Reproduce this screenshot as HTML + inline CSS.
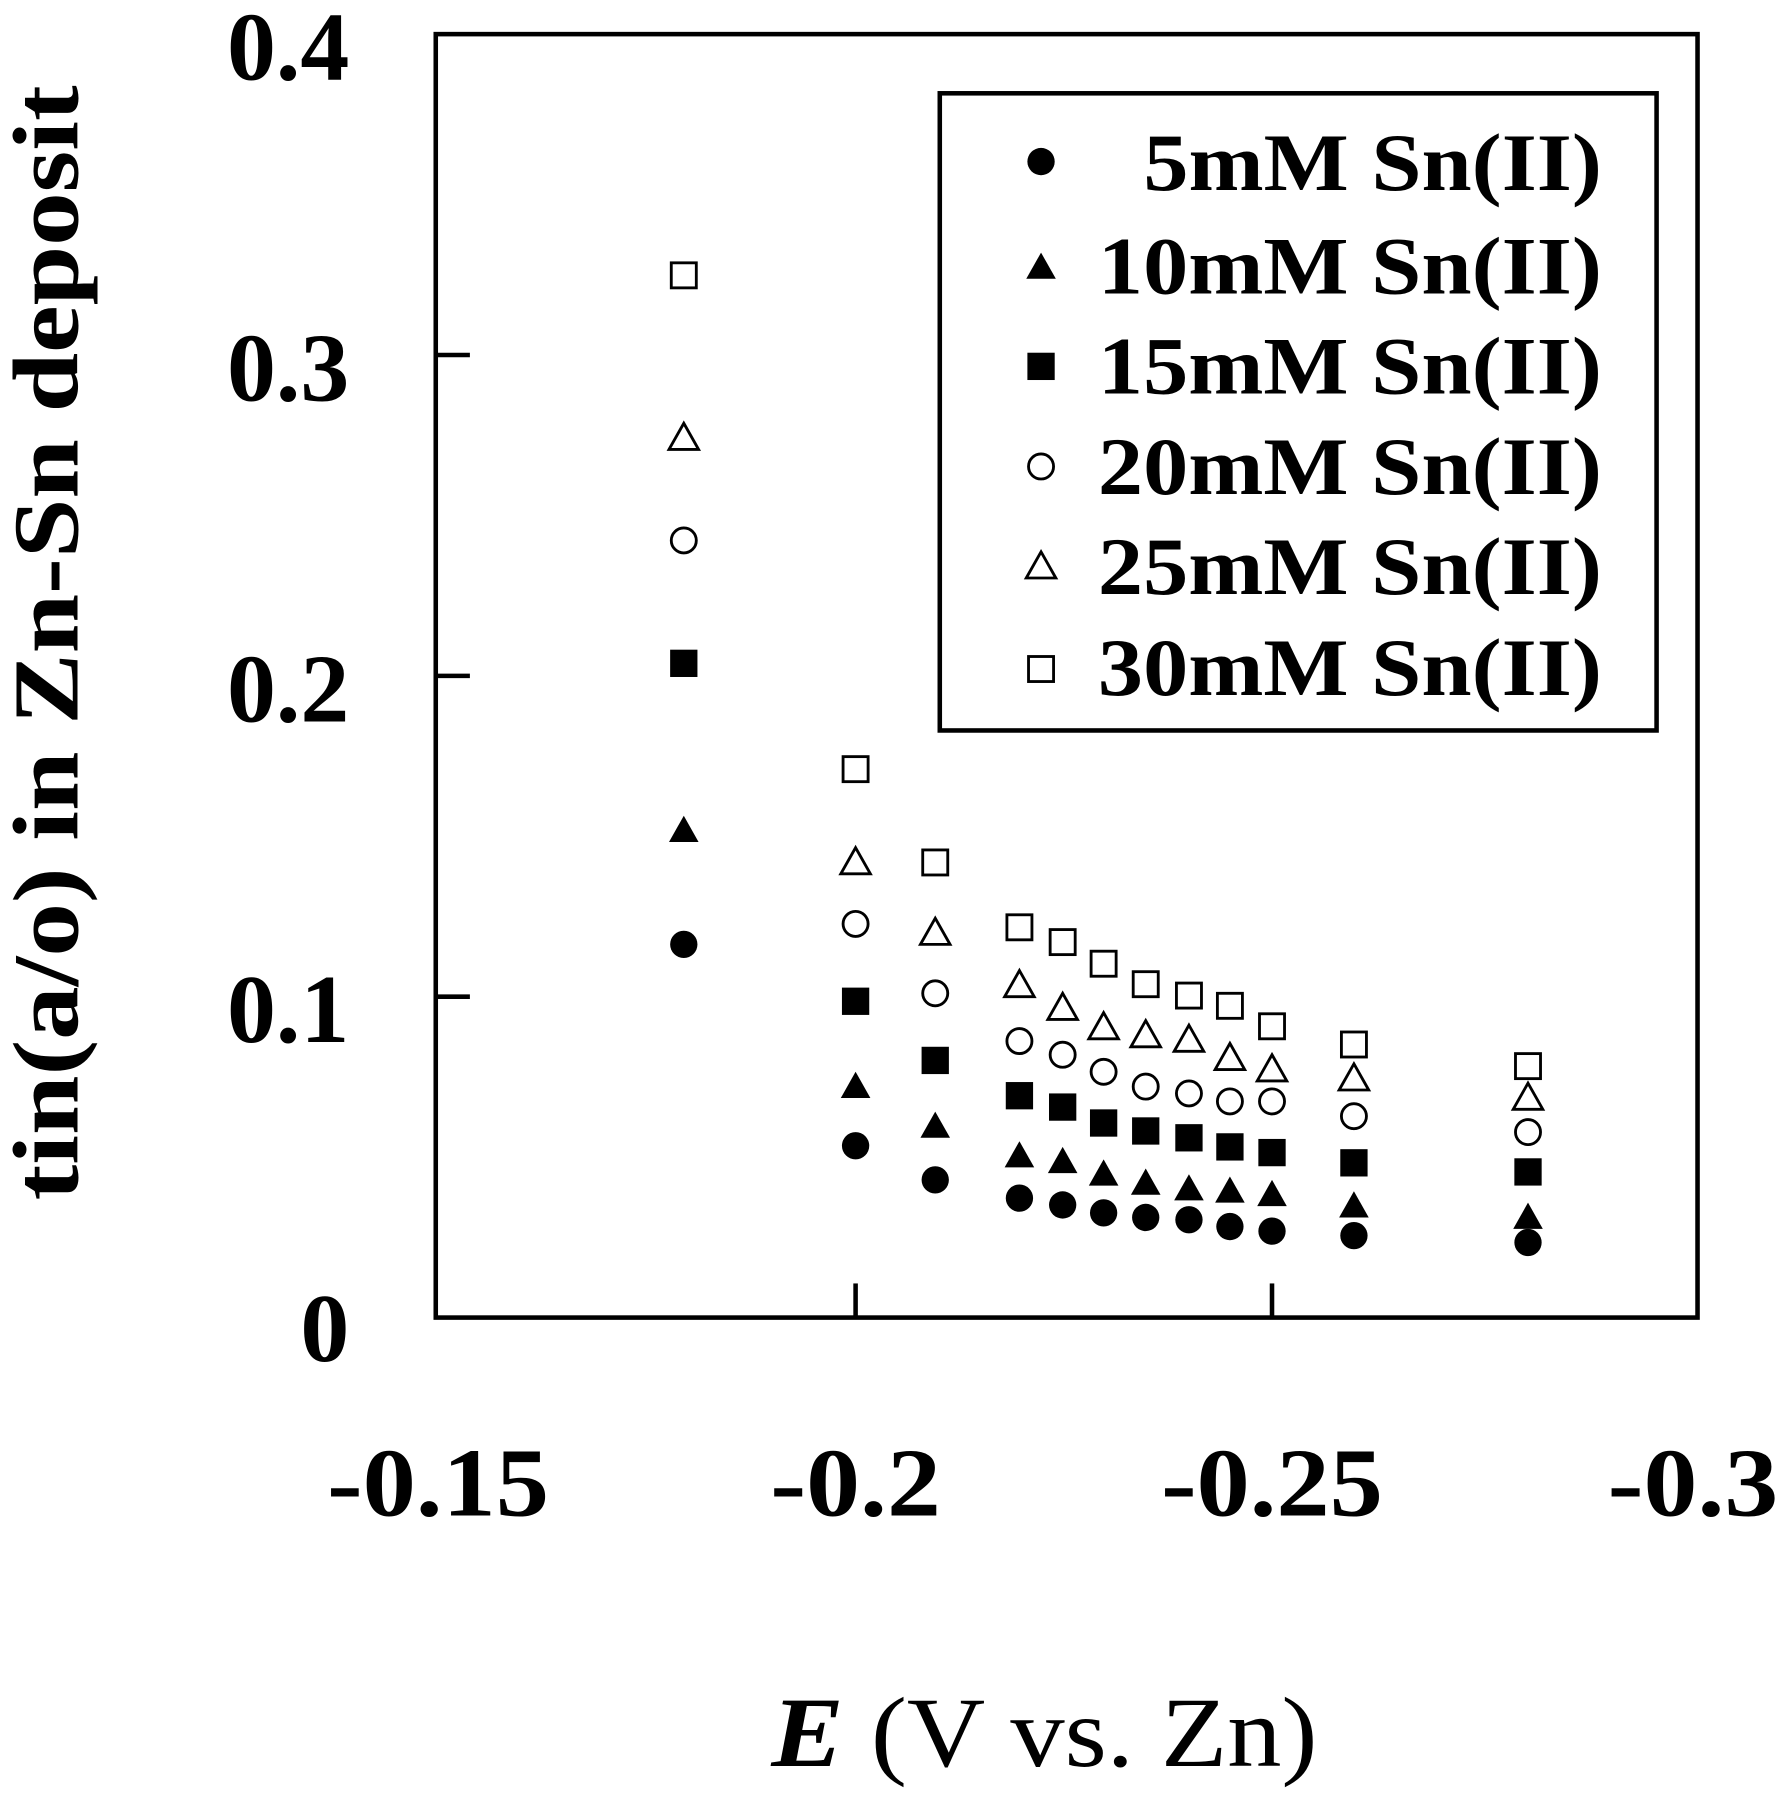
<!DOCTYPE html>
<html><head><style>html,body{margin:0;padding:0;background:#fff}svg{display:block}</style></head>
<body>
<svg width="1784" height="1800" viewBox="0 0 1568 1582" preserveAspectRatio="none" xmlns="http://www.w3.org/2000/svg" font-family="Liberation Serif, serif">
<rect x="383" y="30" width="1109" height="1128" fill="none" stroke="#000" stroke-width="4"/>
<g stroke="#000" stroke-width="4">
<line x1="383" y1="876" x2="413" y2="876"/><line x1="383" y1="594" x2="413" y2="594"/><line x1="383" y1="312" x2="413" y2="312"/>
<line x1="752" y1="1158" x2="752" y2="1128"/><line x1="1118" y1="1158" x2="1118" y2="1128"/>
</g>
<g font-size="86" font-weight="bold" text-anchor="end">
<text x="307" y="70">0.4</text><text x="307" y="352">0.3</text><text x="307" y="634">0.2</text><text x="307" y="916">0.1</text><text x="307" y="1196">0</text>
</g>
<g font-size="86" font-weight="bold" text-anchor="middle">
<text x="385" y="1332" textLength="195" lengthAdjust="spacingAndGlyphs">-0.15</text><text x="752" y="1332" textLength="150" lengthAdjust="spacingAndGlyphs">-0.2</text><text x="1118" y="1332" textLength="195" lengthAdjust="spacingAndGlyphs">-0.25</text><text x="1488" y="1332" textLength="150" lengthAdjust="spacingAndGlyphs">-0.3</text>
</g>
<text x="678" y="1552" font-size="88" textLength="480" lengthAdjust="spacingAndGlyphs"><tspan font-weight="bold" font-style="italic">E</tspan> (V vs. Zn)</text>
<text transform="translate(68,565) rotate(-90)" font-size="82" font-weight="bold" text-anchor="middle" textLength="980" lengthAdjust="spacingAndGlyphs">tin(a/o) in Zn-Sn deposit</text>
<rect x="826" y="82" width="630" height="560" fill="#fff" stroke="#000" stroke-width="4"/>
<g font-size="72" font-weight="bold" lengthAdjust="spacingAndGlyphs">
<text x="1005" y="167" textLength="403" lengthAdjust="spacingAndGlyphs">5mM Sn(II)</text>
<text x="965" y="258" textLength="443" lengthAdjust="spacingAndGlyphs">10mM Sn(II)</text>
<text x="965" y="346" textLength="443" lengthAdjust="spacingAndGlyphs">15mM Sn(II)</text>
<text x="965" y="434" textLength="443" lengthAdjust="spacingAndGlyphs">20mM Sn(II)</text>
<text x="965" y="522" textLength="443" lengthAdjust="spacingAndGlyphs">25mM Sn(II)</text>
<text x="965" y="611" textLength="443" lengthAdjust="spacingAndGlyphs">30mM Sn(II)</text>
</g>
<defs>
<circle id="fc" r="12" fill="#000"/>
<path id="ft" d="M0,-13 L13,10 L-13,10Z" fill="#000"/>
<rect id="fs" x="-12" y="-12" width="24" height="24" fill="#000"/>
<circle id="oc" r="11" fill="none" stroke="#000" stroke-width="2.5"/>
<path id="ot" d="M0,-13 L13,10 L-13,10Z" fill="none" stroke="#000" stroke-width="2.5"/>
<rect id="os" x="-11" y="-11" width="22" height="22" fill="none" stroke="#000" stroke-width="2.5"/>
</defs>
<use href="#fc" x="915" y="142"/><use href="#ft" x="915" y="235"/><use href="#fs" x="915" y="322"/><use href="#oc" x="915" y="410"/><use href="#ot" x="915" y="498"/><use href="#os" x="915" y="588"/>
<g>
<use href="#os" x="601" y="242"/><use href="#os" x="752" y="676"/><use href="#os" x="822" y="758"/><use href="#os" x="896" y="815"/><use href="#os" x="934" y="828"/><use href="#os" x="970" y="847"/><use href="#os" x="1007" y="865"/><use href="#os" x="1045" y="875"/><use href="#os" x="1081" y="884"/><use href="#os" x="1118" y="902"/><use href="#os" x="1190" y="918"/><use href="#os" x="1343" y="937"/>
<use href="#ot" x="601" y="385"/><use href="#ot" x="752" y="758"/><use href="#ot" x="822" y="820"/><use href="#ot" x="896" y="866"/><use href="#ot" x="934" y="886"/><use href="#ot" x="970" y="903"/><use href="#ot" x="1007" y="910"/><use href="#ot" x="1045" y="914"/><use href="#ot" x="1081" y="930"/><use href="#ot" x="1118" y="940"/><use href="#ot" x="1190" y="948"/><use href="#ot" x="1343" y="965"/>
<use href="#oc" x="601" y="475"/><use href="#oc" x="752" y="812"/><use href="#oc" x="822" y="873"/><use href="#oc" x="896" y="915"/><use href="#oc" x="934" y="927"/><use href="#oc" x="970" y="942"/><use href="#oc" x="1007" y="955"/><use href="#oc" x="1045" y="961"/><use href="#oc" x="1081" y="968"/><use href="#oc" x="1118" y="968"/><use href="#oc" x="1190" y="981"/><use href="#oc" x="1343" y="995"/>
<use href="#fs" x="601" y="583"/><use href="#fs" x="752" y="880"/><use href="#fs" x="822" y="932"/><use href="#fs" x="896" y="963"/><use href="#fs" x="934" y="973"/><use href="#fs" x="970" y="987"/><use href="#fs" x="1007" y="994"/><use href="#fs" x="1045" y="1000"/><use href="#fs" x="1081" y="1008"/><use href="#fs" x="1118" y="1013"/><use href="#fs" x="1190" y="1022"/><use href="#fs" x="1343" y="1030"/>
<use href="#ft" x="601" y="730"/><use href="#ft" x="752" y="955"/><use href="#ft" x="822" y="990"/><use href="#ft" x="896" y="1016"/><use href="#ft" x="934" y="1021"/><use href="#ft" x="970" y="1032"/><use href="#ft" x="1007" y="1040"/><use href="#ft" x="1045" y="1045"/><use href="#ft" x="1081" y="1047"/><use href="#ft" x="1118" y="1050"/><use href="#ft" x="1190" y="1060"/><use href="#ft" x="1343" y="1070"/>
<use href="#fc" x="601" y="830"/><use href="#fc" x="752" y="1007"/><use href="#fc" x="822" y="1037"/><use href="#fc" x="896" y="1053"/><use href="#fc" x="934" y="1059"/><use href="#fc" x="970" y="1066"/><use href="#fc" x="1007" y="1070"/><use href="#fc" x="1045" y="1072"/><use href="#fc" x="1081" y="1078"/><use href="#fc" x="1118" y="1082"/><use href="#fc" x="1190" y="1086"/><use href="#fc" x="1343" y="1092"/>
</g>
</svg>
</body></html>
